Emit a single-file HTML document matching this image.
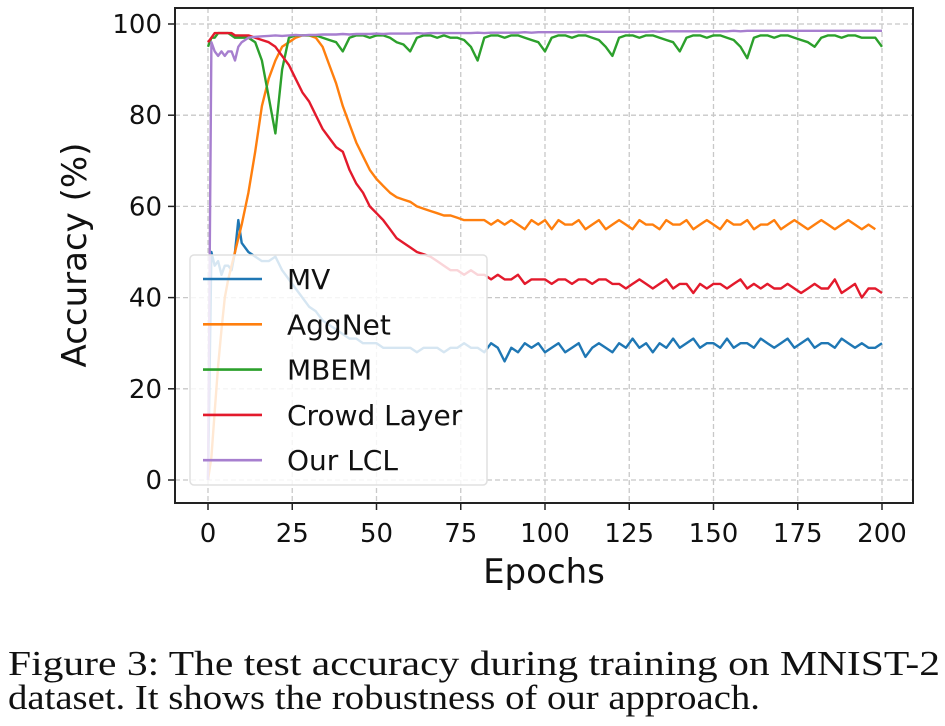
<!DOCTYPE html>
<html><head><meta charset="utf-8"><style>
html,body{margin:0;padding:0;background:#fff;width:945px;height:726px;overflow:hidden}
svg{display:block}
</style></head><body>
<svg id="chart" width="945" height="726" xmlns="http://www.w3.org/2000/svg" font-family="'DejaVu Sans','Liberation Sans',sans-serif">
<g id="grid"></g>
<g id="series"></g>
<rect x="175" y="8" width="738" height="495" fill="none" stroke="#222" stroke-width="2"/>
<g id="ticks"></g>
<text x="544" y="583" font-size="34" text-anchor="middle" fill="#111">Epochs</text>
<text transform="translate(86,255) rotate(-90)" font-size="34" text-anchor="middle" fill="#111">Accuracy (%)</text>
<g id="legend">
<rect x="190" y="255" width="297" height="230" rx="4" fill="#fff" fill-opacity="0.82" stroke="#e0e0e0" stroke-width="1.5"/>
</g>
<text x="8" y="675" font-family="'Liberation Serif','Times New Roman',serif" font-size="35" textLength="932" lengthAdjust="spacingAndGlyphs" fill="#111">Figure 3: The test accuracy during training on MNIST-2</text>
<text x="8" y="709" font-family="'Liberation Serif','Times New Roman',serif" font-size="35" textLength="752" lengthAdjust="spacingAndGlyphs" fill="#111">dataset. It shows the robustness of our approach.</text>
</svg>
<script>
const epochs=[0,1,2,3,4,5,6,7,8,9,10,12,14,16,18,20,22,24,26,28,30,32,34,36,38,40,42,44,46,48,50,52,54,56,58,60,62,64,66,68,70,72,74,76,78,80,82,84,86,88,90,92,94,96,98,100,102,104,106,108,110,112,114,116,118,120,122,124,126,128,130,132,134,136,138,140,142,144,146,148,150,152,154,156,158,160,162,164,166,168,170,172,174,176,178,180,182,184,186,188,190,192,194,196,198,200];
const mvValues=[0,50,47,48,45,47,47,46,50,57,52,50,49,48,48,49,46,44,42,40,38,37,35,34,33,32,31,31,30,30,30,29,29,29,29,29,28,29,29,29,28,29,29,30,29,29,28,30,29,26,29,28,30,29,30,28,29,30,28,29,30,27,29,30,29,28,30,29,31,29,30,28,30,29,31,29,30,31,29,30,30,29,31,29,30,30,29,31,30,29,30,31,29,30,31,29,30,30,29,31,30,29,30,29,29,30];
const aggnetValues=[0,5,15,25,33,40,44,47,50,53,56,63,72,82,88,92,95,96,97,97.5,97.5,97,95,91,87,82,78,74,71,68,66,64.5,63,62,61.5,61,60,59.5,59,58.5,58,58,57.5,57,57,57,57,56,57,56,57,56,55,57,56,57,55,57,56,56,57,55,56,57,55,56,57,56,55,57,56,56,55,57,56,56,57,55,56,57,56,55,57,56,56,57,55,56,56,57,55,56,57,56,55,56,57,56,55,56,57,56,55,56,55];
const mbemValues=[95,97,97,98,98,98,98,97.5,97,97,97,97,96,92,84,76,90,97,97.5,97.5,97.5,97.5,97,96.5,96,94,97,97.5,97.5,97,97.5,97.5,97,96,95.5,94,97,97.5,97.5,97,97.5,97,97,96.5,95,92,97,97.5,97.5,97,97.5,97.5,97,96.5,96,94,97,97.5,97.5,97,97.5,97.5,97,96.5,95,93,97,97.5,97.5,97,97.5,97.5,97,96.5,96,94,97,97.5,97.5,97,97.5,97.5,97,96.5,95,92.5,97,97.5,97.5,97,97.5,97.5,97,96.5,96,95,97,97.5,97.5,97,97.5,97.5,97,97,97,95];
const crowdValues=[96,97,98,98,98,98,98,98,97.5,97.5,97.5,97.5,97,96.5,96,95,93,91,88,85,83,80,77,75,73,72,68,65,63,60,58.5,57,55,53,52,51,50,49.5,49,48,47,46,46,45,46,45,45,44,45,44,44,45,43,44,44,44,43,44,44,43,44,44,43,44,44,43,43,42,43,44,43,42,43,44,42,43,43,41,43,42,43,43,42,43,44,42,43,42,43,42,42,43,42,41,42,43,42,42,44,41,42,43,40,42,42,41];
const lclValues=[0,96,94,93,94,93,94,94,92,95,96,97,97.2,97.3,97.4,97.5,97.4,97.5,97.6,97.5,97.6,97.6,97.7,97.7,97.7,97.8,97.7,97.8,97.8,97.8,97.9,97.8,97.9,97.9,97.9,97.9,98,97.9,98,98,98,98,98,98,98,98.1,98,98.1,98.1,98.1,98.1,98.1,98.2,98.1,98.2,98.2,98.2,98.2,98.2,98.2,98.3,98.2,98.3,98.3,98.3,98.3,98.3,98.3,98.3,98.3,98.3,98.4,98.3,98.4,98.4,98.4,98.4,98.4,98.4,98.4,98.4,98.4,98.4,98.5,98.4,98.5,98.5,98.5,98.5,98.5,98.5,98.5,98.5,98.5,98.5,98.5,98.5,98.5,98.5,98.5,98.5,98.5,98.5,98.5,98.5,98.5];
const xTicks=[0,25,50,75,100,125,150,175,200];
const yTicks=[0,20,40,60,80,100];
const seriesNames=["MV","AggNet","MBEM","Crowd Layer","Our LCL"];
const seriesColors=["#1f77b4","#ff7f0e","#2ca02c","#e31a2c","#a77fcf"];

const NS="http://www.w3.org/2000/svg";
function xs(v){return 208+v*(882-208)/200;}
function ys(v){return 480-v*4.56;}
function mk(tag,attrs,parent){const e=document.createElementNS(NS,tag);for(const k in attrs)e.setAttribute(k,attrs[k]);parent.appendChild(e);return e;}
const grid=document.getElementById('grid'),ticks=document.getElementById('ticks'),series=document.getElementById('series'),legend=document.getElementById('legend');
xTicks.forEach(t=>{
  const g=mk('line',{x1:xs(t),x2:xs(t),y1:8,y2:503,stroke:'#c8c8c8','stroke-width':1.3,'stroke-dasharray':'5,3'},grid);
  
  
  const tk=mk('line',{x1:xs(t),x2:xs(t),y1:503,y2:510,stroke:'#222','stroke-width':1.5},ticks);
  
  
  const tx=mk('text',{x:xs(t),y:542,'font-size':26,'text-anchor':'middle',fill:'#111'},ticks);
  
  
  tx.textContent=t;
});
yTicks.forEach(t=>{
  const g=mk('line',{x1:175,x2:913,y1:ys(t),y2:ys(t),stroke:'#c8c8c8','stroke-width':1.3,'stroke-dasharray':'5,3'},grid);
  
  
  const tk=mk('line',{x1:168,x2:175,y1:ys(t),y2:ys(t),stroke:'#222','stroke-width':1.5},ticks);
  
  
  const tx=mk('text',{x:162,y:ys(t)+9,'font-size':26,'text-anchor':'end',fill:'#111'},ticks);
  
  
  tx.textContent=t;
});
const allValues=[mvValues,aggnetValues,mbemValues,crowdValues,lclValues];
allValues.forEach((vals,i)=>{
  const pts=epochs.map((e,j)=>xs(e).toFixed(1)+','+ys(vals[j]).toFixed(1)).join(' ');
  const p=mk('polyline',{points:pts,fill:'none',stroke:seriesColors[i],'stroke-width':2.4,'stroke-linejoin':'round'},series);
  
  
});
seriesNames.forEach((n,i)=>{
  const y=279+i*45.3;
  const l=mk('line',{x1:203,x2:262,y1:y,y2:y,stroke:seriesColors[i],'stroke-width':2.6},legend);
  
  
  const t=mk('text',{x:287,y:y+10,'font-size':28,fill:'#111'},legend);
  
  
  t.textContent=n;
});
</script>
</body></html>
